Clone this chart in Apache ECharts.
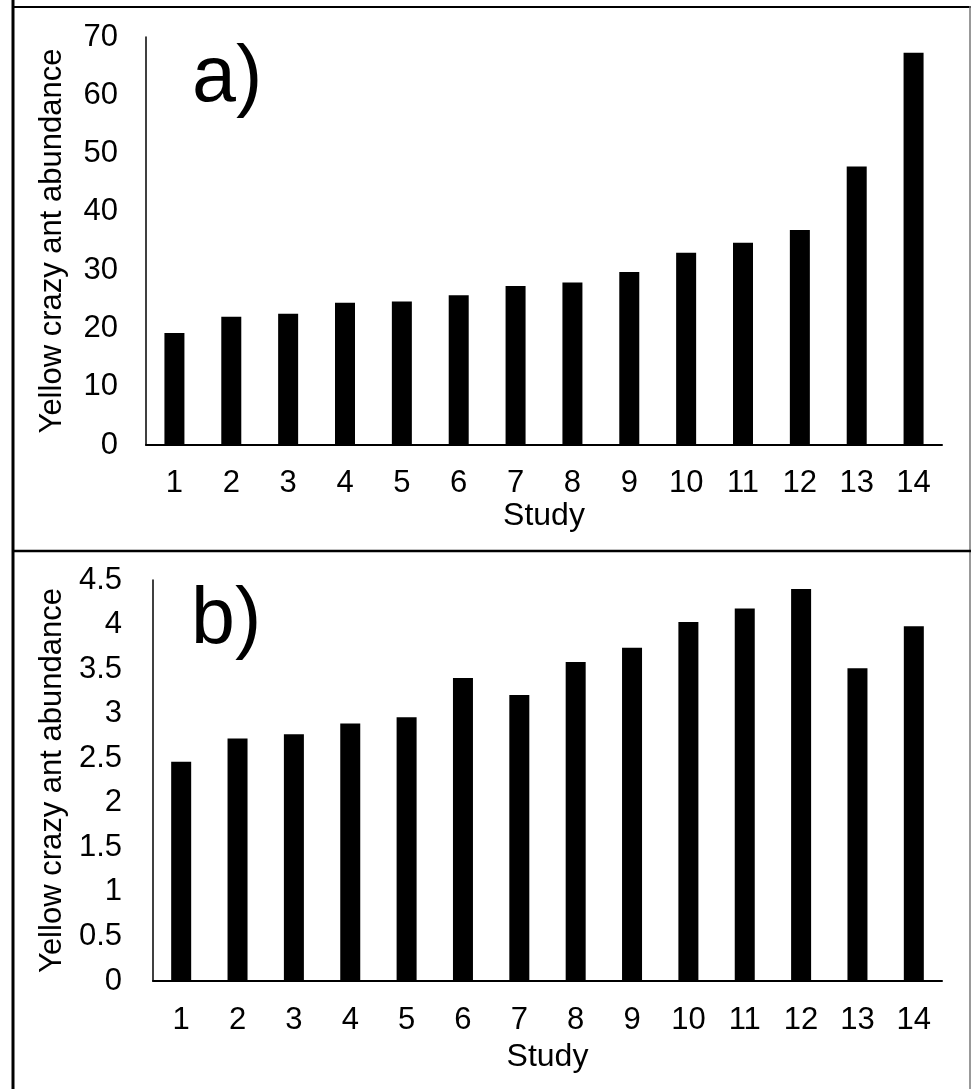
<!DOCTYPE html>
<html>
<head>
<meta charset="utf-8">
<script src="https://cdn.jsdelivr.net/npm/echarts@6/dist/echarts.min.js"></script>
<style>
html,body{margin:0;padding:0;background:#fff;}
#chart{width:971px;height:1089px;}
</style>
</head>
<body>
<div id="chart"></div>
<script>
const studies = ['1','2','3','4','5','6','7','8','9','10','11','12','13','14'];
const abundanceA = [19.2, 22.0, 22.5, 24.4, 24.6, 25.7, 27.3, 27.9, 29.7, 33.0, 34.7, 36.9, 47.8, 67.3];
const abundanceB = [2.46, 2.72, 2.77, 2.89, 2.96, 3.40, 3.21, 3.58, 3.74, 4.03, 4.18, 4.40, 3.51, 3.98];
const yTicksA = {min: 0, max: 70, interval: 10};
const yTicksB = {min: 0, max: 4.5, interval: 0.5};
const yName = 'Yellow crazy ant abundance';
const xName = 'Study';
const panelLabels = ['a)', 'b)'];

const FONT = '"Liberation Sans", Arial, sans-serif';
const FS = 31;
const chart = echarts.init(document.getElementById('chart'), null, {renderer: 'canvas'});

function xAxis(gridIndex, nameGap, margin) {
  return {
    type: 'category', gridIndex, data: studies,
    name: xName, nameLocation: 'middle', nameGap,
    nameTextStyle: {color: '#000', fontSize: 32, fontFamily: FONT},
    axisLine: {show: true, lineStyle: {color: '#000', width: 2}},
    axisTick: {show: false},
    axisLabel: {color: '#000', fontSize: FS, fontFamily: FONT, margin, interval: 0}
  };
}
function yAxis(gridIndex, ticks, nameGap, margin) {
  return {
    type: 'value', gridIndex, min: ticks.min, max: ticks.max, interval: ticks.interval,
    name: yName, nameLocation: 'middle', nameGap, nameRotate: 90,
    nameTextStyle: {color: '#000', fontSize: FS, fontFamily: FONT},
    axisLine: {show: true, lineStyle: {color: '#000', width: 1.5}},
    axisTick: {show: false},
    splitLine: {show: false},
    axisLabel: {color: '#000', fontSize: FS, fontFamily: FONT, margin}
  };
}

chart.setOption({
  animation: false,
  backgroundColor: '#fff',
  grid: [
    {left: 146, top: 37, width: 796, height: 408},
    {left: 153, top: 580, width: 789, height: 401}
  ],
  xAxis: [xAxis(0, 55, 23), xAxis(1, 60, 24)],
  yAxis: [yAxis(0, yTicksA, 78, 28), yAxis(1, yTicksB, 83, 31)],
  series: [
    {type: 'bar', xAxisIndex: 0, yAxisIndex: 0, data: abundanceA, barWidth: 20, itemStyle: {color: '#000'}},
    {type: 'bar', xAxisIndex: 1, yAxisIndex: 1, data: abundanceB, barWidth: 20, itemStyle: {color: '#000'}}
  ],
  graphic: [
    {type: 'line', shape: {x1: 13, y1: 0, x2: 13, y2: 1089}, style: {stroke: '#000', lineWidth: 3}},
    {type: 'line', shape: {x1: 12, y1: 7, x2: 971, y2: 7}, style: {stroke: '#000', lineWidth: 2}},
    {type: 'line', shape: {x1: 970, y1: 6, x2: 970, y2: 1089}, style: {stroke: '#777', lineWidth: 1.5}},
    {type: 'line', shape: {x1: 12, y1: 551, x2: 971, y2: 551}, style: {stroke: '#000', lineWidth: 2.5}},
    {type: 'text', left: 192, top: 40, style: {text: panelLabels[0], fontSize: 79, fontFamily: FONT, fill: '#000'}},
    {type: 'text', left: 191, top: 582, style: {text: panelLabels[1], fontSize: 79, fontFamily: FONT, fill: '#000'}}
  ]
});
</script>
</body>
</html>
